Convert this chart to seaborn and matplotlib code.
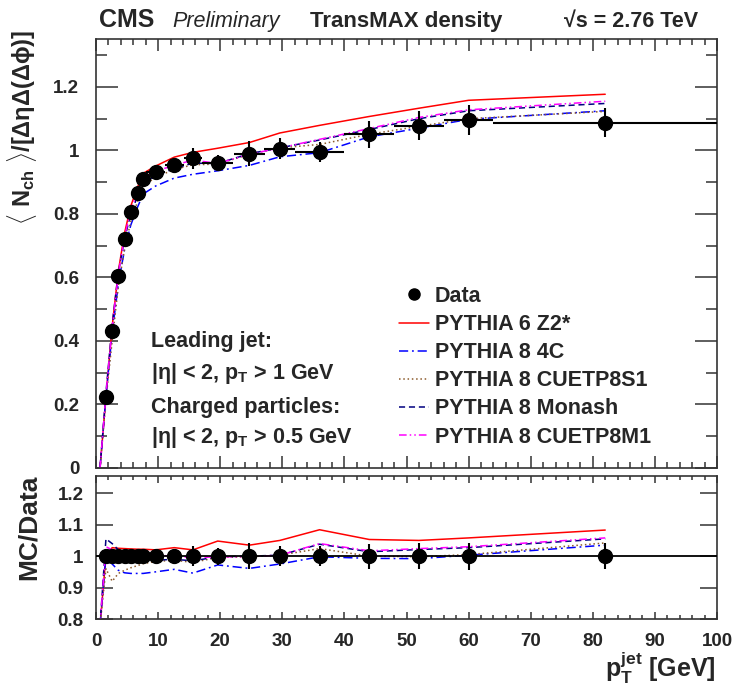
import matplotlib
matplotlib.use("Agg")
import matplotlib.pyplot as plt
import seaborn as sns
from matplotlib.lines import Line2D
from matplotlib.ticker import MultipleLocator, FuncFormatter

# ---- measurement: TransMAX charged-particle density vs leading-jet pT ----
pt_data = [1.6, 2.6, 3.6, 4.6, 5.6, 6.7, 7.6, 9.6, 12.6, 15.6, 19.6, 24.7,
           29.6, 36, 44, 52, 60, 82]
pt_halfwidth = [0.5, 0.5, 0.5, 0.5, 0.5, 0.5, 0.5, 1.5, 1.5, 1.5, 2.5, 2.5,
                2.5, 4, 4, 4, 4, 18]
density_data = [0.224, 0.433, 0.604, 0.722, 0.806, 0.866, 0.909, 0.932, 0.953,
                0.975, 0.961, 0.990, 1.005, 0.995, 1.051, 1.078, 1.095, 1.087]
density_err = [0.005, 0.008, 0.010, 0.010, 0.010, 0.010, 0.012, 0.015, 0.022,
               0.032, 0.026, 0.040, 0.033, 0.032, 0.042, 0.045, 0.047, 0.046]

# ---- generator predictions ----
mc_pt = [0.65, 1.6, 2.6, 3.6, 4.6, 5.6, 6.7, 7.6, 9.6, 12.6, 15.6, 19.6, 24.7,
         29.6, 36, 44, 52, 60, 82]
z2star = [0.0, 0.224, 0.445, 0.620, 0.740, 0.825, 0.885, 0.928, 0.951, 0.979,
          0.994, 1.007, 1.025, 1.055, 1.079, 1.107, 1.133, 1.158, 1.177]
tune_4c = [0.0, 0.224, 0.425, 0.580, 0.688, 0.765, 0.822, 0.863, 0.888, 0.913,
           0.925, 0.936, 0.953, 0.980, 0.993, 1.043, 1.070, 1.098, 1.125]
cuetp8s1 = [0.0, 0.215, 0.400, 0.572, 0.690, 0.776, 0.840, 0.887, 0.916, 0.940,
            0.955, 0.957, 0.988, 1.008, 1.019, 1.051, 1.076, 1.100, 1.123]
monash = [0.0, 0.236, 0.450, 0.616, 0.722, 0.800, 0.857, 0.898, 0.920, 0.943,
          0.960, 0.959, 0.990, 1.008, 1.033, 1.066, 1.100, 1.125, 1.148]
cuetp8m1 = [0.0, 0.231, 0.442, 0.611, 0.729, 0.812, 0.871, 0.914, 0.935, 0.953,
            0.970, 0.959, 0.988, 1.008, 1.035, 1.069, 1.104, 1.128, 1.155]

# ---- MC / Data ----
ratio_z2star = [0.78, 1.000, 1.027, 1.025, 1.024, 1.023, 1.022, 1.022, 1.020,
                1.027, 1.020, 1.048, 1.035, 1.050, 1.084, 1.053, 1.050, 1.058, 1.083]
ratio_4c = [0.78, 1.000, 0.975, 0.955, 0.947, 0.945, 0.945, 0.945, 0.950,
            0.958, 0.946, 0.972, 0.961, 0.975, 0.998, 0.993, 0.992, 1.003, 1.035]
ratio_cuetp8s1 = [0.78, 0.960, 0.920, 0.945, 0.955, 0.963, 0.970, 0.976, 0.983,
                  0.987, 0.980, 0.996, 0.998, 1.003, 1.024, 1.000, 0.998, 1.005, 1.042]
ratio_monash = [0.78, 1.055, 1.040, 1.020, 1.000, 0.993, 0.990, 0.988, 0.987,
                0.990, 0.985, 0.998, 1.000, 1.003, 1.038, 1.014, 1.021, 1.027, 1.055]
ratio_cuetp8m1 = [0.78, 1.030, 1.020, 1.012, 1.010, 1.008, 1.006, 1.005, 1.003,
                  1.000, 0.995, 0.998, 0.998, 1.003, 1.040, 1.017, 1.024, 1.030, 1.058]

labels = ["PYTHIA 6 Z2*", "PYTHIA 8 4C", "PYTHIA 8 CUETP8S1",
          "PYTHIA 8 Monash", "PYTHIA 8 CUETP8M1"]
colors = ["#ff0000", "#0000ff", "#8b5a2b", "#000080", "#ff00ff"]
styles = ["-", (0, (6, 2.5, 1.2, 2.5)), (0, (1, 1.8)), (0, (4, 2.5)),
          (0, (5, 2, 1, 2, 1, 2))]

sns.set_style("ticks")
plt.rcParams["font.family"] = ["Liberation Sans", "DejaVu Sans"]
plt.rcParams["font.weight"] = "bold"
plt.rcParams["mathtext.fontset"] = "custom"
plt.rcParams["mathtext.rm"] = "Liberation Sans"
plt.rcParams["mathtext.bf"] = "Liberation Sans:bold"
plt.rcParams["mathtext.it"] = "Liberation Sans:italic"
plt.rcParams["mathtext.sf"] = "Liberation Sans"
plt.rcParams["mathtext.default"] = "bf"

W, H = 734, 692
fig = plt.figure(figsize=(W / 100, H / 100), dpi=100)


def fx(px):
    return px / W


def fy(py):
    return 1 - py / H


ax = fig.add_axes([fx(96), fy(468), fx(717) - fx(96), fy(39) - fy(468)])
axr = fig.add_axes([fx(96), fy(619), fx(717) - fx(96), fy(476) - fy(619)])

mc_main = [z2star, tune_4c, cuetp8s1, monash, cuetp8m1]
mc_ratio = [ratio_z2star, ratio_4c, ratio_cuetp8s1, ratio_monash, ratio_cuetp8m1]

for vals, rvals, c, ls in zip(mc_main, mc_ratio, colors, styles):
    sns.lineplot(x=mc_pt, y=vals, ax=ax, color=c, linestyle=ls, lw=1.1,
                 sort=False, legend=False, zorder=2)
    sns.lineplot(x=mc_pt, y=rvals, ax=axr, color=c, linestyle=ls, lw=1.1,
                 sort=False, legend=False, zorder=2)

# data points
ax.errorbar(pt_data, density_data, xerr=pt_halfwidth, yerr=density_err,
            fmt="o", color="black", ms=10, elinewidth=1.5, capsize=0, zorder=4)

ratio_one = [1.0 for _ in pt_data]
ratio_err = [e / v for e, v in zip(density_err, density_data)]
axr.axhline(1.0, color="black", lw=1.3, zorder=3)
axr.errorbar(pt_data, ratio_one, yerr=ratio_err, fmt="o", color="black",
             ms=10, elinewidth=1.5, capsize=0, zorder=4)

fmt_g = FuncFormatter(lambda v, p: f"{v:g}")

ax.set_xlim(0, 100)
ax.set_ylim(0, 1.351)
ax.xaxis.set_major_locator(MultipleLocator(10))
ax.xaxis.set_minor_locator(MultipleLocator(2))
ax.yaxis.set_major_locator(MultipleLocator(0.2))
ax.yaxis.set_minor_locator(MultipleLocator(0.1))
ax.yaxis.set_major_formatter(fmt_g)
ax.tick_params(axis="x", which="both", labelbottom=False)
ax.tick_params(which="both", direction="in", top=True, right=True,
               width=1.1, color="#333333")
ax.tick_params(axis="x", which="major", length=8.4)
ax.tick_params(axis="x", which="minor", length=4.3)
ax.tick_params(axis="y", which="major", length=16, pad=12, labelsize=13.5)
ax.tick_params(axis="y", which="minor", length=8)

axr.set_xlim(0, 100)
axr.set_ylim(0.8, 1.255)
axr.xaxis.set_major_locator(MultipleLocator(10))
axr.xaxis.set_minor_locator(MultipleLocator(2))
axr.yaxis.set_major_locator(MultipleLocator(0.1))
axr.yaxis.set_major_formatter(fmt_g)
axr.xaxis.set_major_formatter(fmt_g)
axr.tick_params(which="both", direction="in", top=True, right=True,
                width=1.1, color="#333333")
axr.tick_params(axis="x", which="major", length=5, pad=10, labelsize=13.5)
axr.tick_params(axis="x", which="minor", length=3)
axr.tick_params(axis="y", which="major", length=12, pad=9, labelsize=13.5)
axr.tick_params(axis="y", which="minor", length=0)

for a in (ax, axr):
    a.set_xlabel("")
    a.set_ylabel("")
    for s in a.spines.values():
        s.set_linewidth(1.2)
        s.set_color("#333333")
    for lab in a.get_xticklabels() + a.get_yticklabels():
        lab.set_fontweight("bold")

# axis titles
fig.text(fx(22), fy(30),
         r"$\langle\ \mathbf{N_{ch}}\ \rangle\mathrm{/[\Delta\eta\Delta(\Delta\phi)]}$",
         rotation=90, ha="center", va="top", fontsize=17)
fig.text(fx(29), fy(475), "MC/Data", rotation=90, ha="center", va="top",
         fontsize=19, fontweight="bold")
fig.text(fx(716), fy(677), r"$\mathbf{p_{T}^{jet}}$ [GeV]", ha="right",
         va="baseline", fontsize=18, fontweight="bold")

# header
fig.text(fx(99), fy(27), "CMS", fontsize=18, fontweight="bold", va="baseline")
fig.text(fx(172), fy(27), "Preliminary", fontsize=15.5, style="italic",
         fontweight="normal", va="baseline")
fig.text(fx(310), fy(27), "TransMAX density", fontsize=16, fontweight="bold",
         va="baseline")
fig.text(fx(698), fy(27), "\u221as = 2.76 TeV", fontsize=15.5,
         fontweight="bold", ha="right", va="baseline")

# selection text
sel = ["Leading jet:", r"|$\mathrm{\eta}$| < 2, p$_{\mathbf{T}}$ > 1 GeV",
       "Charged particles:", r"|$\mathrm{\eta}$| < 2, p$_{\mathbf{T}}$ > 0.5 GeV"]
sel_y = [342, 373, 407, 438]
for t, yy in zip(sel, sel_y):
    fig.text(fx(151), fy(yy), t, fontsize=15.5, fontweight="bold", va="center")

# legend
handles = [Line2D([], [], marker="o", color="black", ls="none", ms=8)]
for c, ls in zip(colors, styles):
    handles.append(Line2D([], [], color=c, ls=ls, lw=1.1))
leg = ax.legend(handles, ["Data"] + labels, loc="upper left",
                bbox_to_anchor=(fx(399), fy(286)), bbox_transform=fig.transFigure,
                frameon=False, borderpad=0, borderaxespad=0, handlelength=1.4,
                handletextpad=0.25, labelspacing=0.33,
                prop={"weight": "bold", "size": 15.5})

fig.savefig("out.png", dpi=100)
